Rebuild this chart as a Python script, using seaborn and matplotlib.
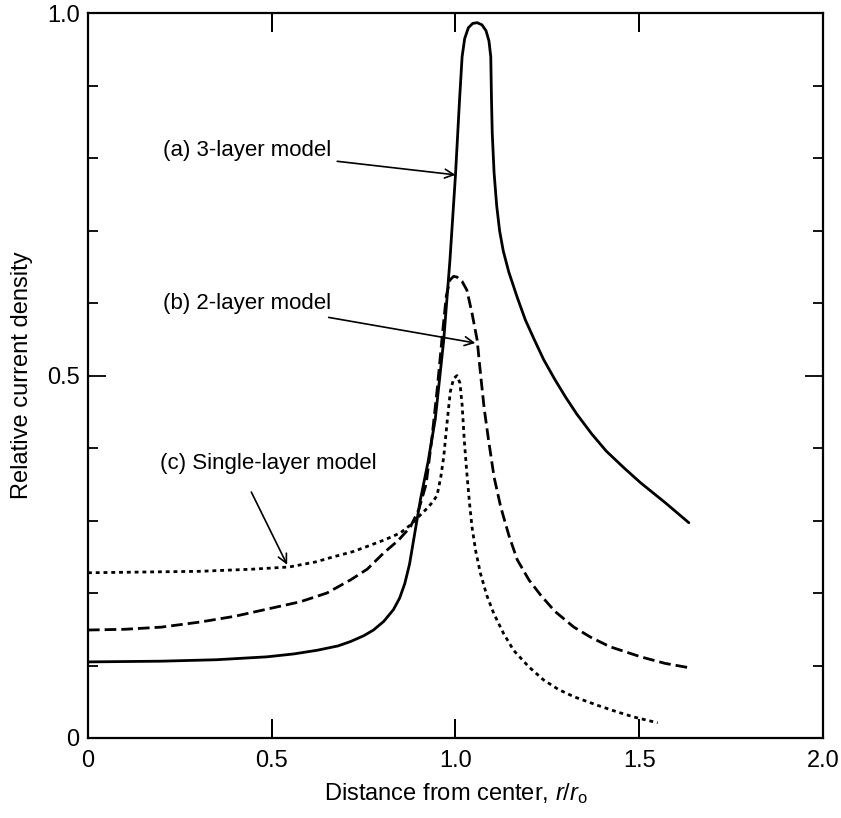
import matplotlib
matplotlib.use("Agg")
import matplotlib.pyplot as plt
import pandas as pd
import seaborn as sns
from matplotlib.ticker import MultipleLocator, FixedLocator

# ---- values ----
# (a) 3-layer model (solid)
x_a = [0, 0.2, 0.35, 0.487, 0.56, 0.623, 0.68, 0.714, 0.75, 0.777, 0.805, 0.831,
       0.848, 0.862, 0.875, 0.886, 0.905, 0.925, 0.945, 0.968, 0.985, 1.0, 1.011,
       1.018, 1.025, 1.035, 1.047, 1.059, 1.072, 1.083, 1.091, 1.096, 1.098, 1.1,
       1.105, 1.112, 1.12, 1.13, 1.145, 1.168, 1.19, 1.215, 1.24, 1.27, 1.3, 1.33,
       1.37, 1.41, 1.46, 1.504, 1.57, 1.635]
y_a = [0.105, 0.106, 0.108, 0.112, 0.116, 0.121, 0.127, 0.133, 0.141, 0.149, 0.161,
       0.177, 0.193, 0.213, 0.24, 0.273, 0.33, 0.38, 0.44, 0.549, 0.66, 0.777, 0.88,
       0.94, 0.965, 0.98, 0.986, 0.987, 0.984, 0.976, 0.962, 0.94, 0.88, 0.835,
       0.78, 0.735, 0.7, 0.672, 0.643, 0.608, 0.577, 0.549, 0.522, 0.495, 0.47,
       0.447, 0.42, 0.396, 0.372, 0.352, 0.325, 0.297]

# (b) 2-layer model (dashed)
x_b = [0, 0.1, 0.2, 0.305, 0.4, 0.48, 0.578, 0.65, 0.714, 0.76, 0.804, 0.845, 0.877,
       0.9, 0.92, 0.935, 0.95, 0.965, 0.975, 0.985, 0.995, 1.004, 1.018, 1.031, 1.045,
       1.053, 1.059, 1.068, 1.078, 1.09, 1.105, 1.123, 1.145, 1.168, 1.2, 1.232, 1.27,
       1.322, 1.368, 1.42, 1.504, 1.57, 1.635]
y_b = [0.149, 0.15, 0.153, 0.16, 0.168, 0.177, 0.188, 0.2, 0.218, 0.233, 0.255, 0.273,
       0.291, 0.315, 0.35, 0.41, 0.48, 0.56, 0.61, 0.632, 0.637, 0.636, 0.63, 0.618,
       0.586, 0.565, 0.549, 0.503, 0.455, 0.411, 0.36, 0.319, 0.28, 0.246, 0.218,
       0.197, 0.175, 0.153, 0.139, 0.126, 0.112, 0.103, 0.097]

# (c) single-layer model (dotted)
x_c = [0, 0.15, 0.305, 0.45, 0.548, 0.62, 0.668, 0.72, 0.758, 0.81, 0.85, 0.88, 0.905,
       0.925, 0.94, 0.95, 0.96, 0.968, 0.978, 0.986, 0.995, 1.004, 1.012, 1.018, 1.024,
       1.031, 1.038, 1.045, 1.055, 1.068, 1.085, 1.104, 1.13, 1.158, 1.2, 1.24, 1.28,
       1.322, 1.387, 1.44, 1.485, 1.55]
y_c = [0.228, 0.229, 0.23, 0.233, 0.236, 0.243, 0.25, 0.257, 0.264, 0.274, 0.283,
       0.295, 0.308, 0.318, 0.327, 0.335, 0.36, 0.388, 0.44, 0.478, 0.496, 0.5, 0.49,
       0.46, 0.41, 0.365, 0.325, 0.291, 0.258, 0.227, 0.197, 0.172, 0.145, 0.121,
       0.098, 0.08, 0.067, 0.057, 0.045, 0.036, 0.029, 0.021]

labels = ["(a) 3-layer model", "(b) 2-layer model", "(c) Single-layer model"]
x_ticks = [0, 0.5, 1.0, 1.5, 2.0]
x_ticklabels = ["0", "0.5", "1.0", "1.5", "2.0"]
y_ticks = [0, 0.5, 1.0]
y_ticklabels = ["0", "0.5", "1.0"]

df = pd.concat([
    pd.DataFrame({"x": x_a, "y": y_a, "model": labels[0]}),
    pd.DataFrame({"x": x_b, "y": y_b, "model": labels[1]}),
    pd.DataFrame({"x": x_c, "y": y_c, "model": labels[2]}),
])

sns.set_style("ticks")
plt.rcParams.update({
    "font.family": ["Liberation Sans", "DejaVu Sans"],
    "mathtext.fontset": "custom",
    "mathtext.rm": "Liberation Sans",
    "mathtext.it": "Liberation Sans:italic",
    "axes.edgecolor": "black",
    "axes.linewidth": 1.6,
    "text.color": "black",
    "axes.labelcolor": "black",
    "xtick.color": "black",
    "ytick.color": "black",
})

fig = plt.figure(figsize=(8.41, 8.18), dpi=100)
ax = fig.add_axes([0.1046, 0.0978, 0.874, 0.886])

styles = {labels[0]: "-", labels[1]: (0, (4.2, 1.8)), labels[2]: (0, (1.4, 1.4))}
for name, sub in df.groupby("model", sort=False):
    sns.lineplot(data=sub, x="x", y="y", ax=ax, color="black", lw=2.0,
                 linestyle=styles[name], sort=False, estimator=None, legend=False)

ax.set_xlim(0, 2.0)
ax.set_ylim(0, 1.0)
ax.xaxis.set_major_locator(FixedLocator(x_ticks))
ax.set_xticklabels(x_ticklabels)
ax.yaxis.set_major_locator(FixedLocator(y_ticks))
ax.set_yticklabels(y_ticklabels)
ax.yaxis.set_minor_locator(MultipleLocator(0.1))
ax.tick_params(axis="x", which="major", direction="in", top=True, bottom=True,
               length=14, width=1.4, labelsize=17, pad=9)
ax.tick_params(axis="y", which="major", direction="in", left=True, right=True,
               length=13, width=1.3, labelsize=17, pad=6)
ax.tick_params(axis="y", which="minor", direction="in", left=True, right=True,
               length=7, width=1.3)

# inward x tick marks on the bottom and top edges (drawn explicitly)
for xt in x_ticks[1:-1]:
    ax.axvline(xt, ymin=0, ymax=0.024, color="black", lw=1.4, zorder=5)
    ax.axvline(xt, ymin=0.976, ymax=1.0, color="black", lw=1.4, zorder=5)

ax.set_xlabel(r"Distance from center, $r/r_\mathrm{o}$", fontsize=17, labelpad=6)
ax.set_ylabel("Relative current density", fontsize=17, labelpad=10)

arrow = dict(arrowstyle="->", color="black", lw=1.2, shrinkA=2, shrinkB=0)
ax.annotate(labels[0], xy=(1.0, 0.777), xytext=(0.204, 0.81), fontsize=16,
            va="center", ha="left", arrowprops=arrow)
ax.annotate(labels[1], xy=(1.054, 0.545), xytext=(0.204, 0.60), fontsize=16,
            va="center", ha="left", arrowprops=arrow)
ax.annotate(labels[2], xy=(0.542, 0.239), xytext=(0.196, 0.379), fontsize=16,
            va="center", ha="left",
            arrowprops=dict(arrowstyle="->", color="black", lw=1.2, shrinkA=12, shrinkB=0,
                            relpos=(0.38, 0.0)))

fig.savefig("out.png", dpi=100)
